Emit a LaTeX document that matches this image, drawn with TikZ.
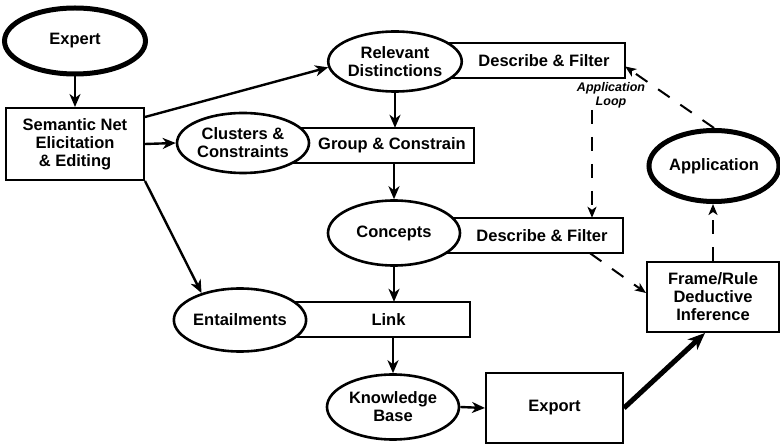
\documentclass[tikz,border=0pt]{standalone}
\usepackage{fontspec}
\setmainfont{Liberation Sans}
\usetikzlibrary{shapes.geometric,arrows.meta}

\begin{document}
\begin{tikzpicture}[x=1pt,y=-1pt,
  font=\fontsize{16.5}{18}\selectfont\bfseries,
  oval/.style={ellipse, draw, line width=2.6pt, fill=white, inner sep=0pt, align=center},
  heavyoval/.style={oval, line width=5pt},
  panel/.style={rectangle, draw, line width=2pt, inner sep=0pt, align=center},
  tab/.style={rectangle, inner sep=0pt, align=center, minimum height=35pt},
  tabline/.style={line width=2pt},
  flow/.style={line width=2.4pt, -{Stealth[length=13pt,width=11pt,inset=4pt]}},
  bigflow/.style={line width=5pt, -{Stealth[length=17pt,width=14pt,inset=5pt]}},
  loop/.style={line width=2pt, dash pattern=on 14pt off 13pt, -{Stealth[length=11pt,width=9pt,inset=3pt]}},
  looptext/.style={font=\fontsize{12.5}{14}\selectfont\bfseries\itshape, align=center, inner sep=0pt},
]
\useasboundingbox (0,0) rectangle (780,446);

% side tabs (their left ends disappear under the ovals)
\node[tab, minimum width=162pt] (df1) at (544,60.5) {Describe \& Filter};
\draw[tabline] ([xshift=-40pt]df1.north west) rectangle (df1.south east);
\node[tab, minimum width=164pt] (group) at (392,145.5) {Group \& Constrain};
\draw[tabline] ([xshift=-30pt]group.north west) rectangle (group.south east);
\node[tab, minimum width=162pt] (df2) at (542,235.5) {Describe \& Filter};
\draw[tabline] ([xshift=-30pt]df2.north west) rectangle (df2.south east);
\node[tab, minimum width=163pt] (link) at (388.5,319.5) {Link};
\draw[tabline] ([xshift=-30pt]link.north west) rectangle (link.south east);

% ovals
\node[heavyoval, minimum width=141pt, minimum height=66pt] (expert) at (75,41) {Expert};
\node[oval, minimum width=132pt, minimum height=60pt] (reldist) at (395,61.5) {Relevant\\Distinctions};
\node[oval, minimum width=132pt, minimum height=60pt] (clusters) at (243,143) {Clusters \&\\Constraints};
\node[oval, minimum width=132pt, minimum height=65pt] (concepts) at (394,233) {Concepts};
\node[oval, minimum width=132pt, minimum height=63pt] (entail) at (240,320) {Entailments};
\node[oval, minimum width=132pt, minimum height=65pt] (kb) at (393,407) {Knowledge\\Base};
\node[heavyoval, minimum width=130pt, minimum height=71pt] (app) at (714,166) {Application};

% boxes
\node[panel, minimum width=138pt, minimum height=72pt] (semnet) at (75,144) {Semantic Net\\Elicitation\\\& Editing};
\node[panel, minimum width=137pt, minimum height=70pt] (export) at (554.5,408) {Export};
\node[panel, minimum width=132pt, minimum height=70pt] (frame) at (713,297) {Frame/Rule\\Deductive\\Inference};

% loop label
\node[looptext] (looplabel) at (611,95) {Application\\Loop};
\coordinate (loopstart) at (592,110);

% main flow
\draw[flow] (expert.south) -- (semnet.north);
\draw[flow] ([yshift=-10pt]semnet.north east) -- (reldist.185);
\draw[flow] (semnet.east) -- (clusters.west);
\draw[flow] (semnet.south east) -- (entail.145);
\draw[flow] (reldist.south) -- (reldist.south |- group.north);
\draw[flow] (concepts.north |- group.south) -- (concepts.north);
\draw[flow] (concepts.south) -- (concepts.south |- link.north);
\draw[flow] (kb.north |- link.south) -- (kb.north);
\draw[flow] (kb.east) -- (export.west);
\draw[bigflow] (export.east) -- ([xshift=-8pt]frame.south);

% application loop
\draw[loop] ([xshift=48pt]df2.south) -- ([yshift=4pt]frame.west);
\draw[loop] (frame.north) -- (frame.north |- app.south);
\draw[loop] (app.north) -- ([yshift=-6pt]df1.east);
\draw[loop] (loopstart) -- (loopstart |- df2.north);
\end{tikzpicture}
\end{document}
